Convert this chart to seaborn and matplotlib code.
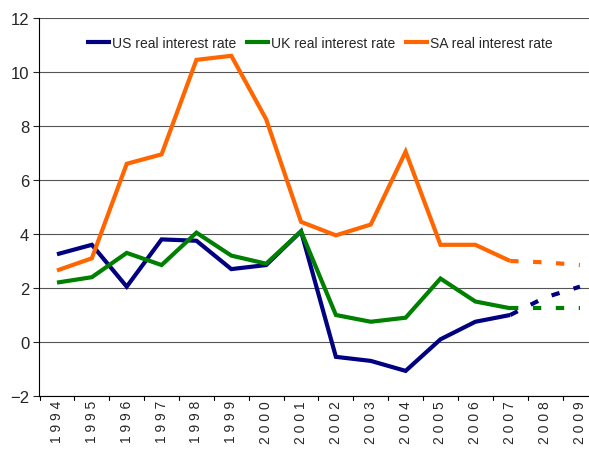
import matplotlib
matplotlib.use("Agg")
import matplotlib.pyplot as plt
import seaborn as sns
import pandas as pd
import numpy as np

years = [str(y) for y in range(1994, 2010)]
us = [3.25, 3.6, 2.05, 3.8, 3.75, 2.7, 2.85, 4.1, -0.55, -0.7, -1.07, 0.1, 0.75, 1.0, 1.65, 2.05]
uk = [2.2, 2.4, 3.3, 2.85, 4.05, 3.2, 2.9, 4.1, 1.0, 0.75, 0.9, 2.35, 1.5, 1.25, 1.25, 1.25]
sa = [2.65, 3.1, 6.6, 6.95, 10.45, 10.6, 8.25, 4.45, 3.95, 4.35, 7.05, 3.6, 3.6, 3.0, 2.95, 2.85]
labels = ["US real interest rate", "UK real interest rate", "SA real interest rate"]
colors = ["#000080", "#008000", "#FF6600"]
n_actual = 14  # through 2007; 2007-2009 drawn dashed

sns.set_style("white")
plt.rcParams['font.family'] = ['Liberation Sans', 'DejaVu Sans']

fig = plt.figure(figsize=(5.89, 4.52), dpi=100)
ax = fig.add_axes([39/589, 55/452, 550/589, 378/452])

idx = np.arange(len(years))
for vals, lab, col in zip([us, uk, sa], labels, colors):
    df_a = pd.DataFrame({"x": idx[:n_actual], "y": vals[:n_actual]})
    df_f = pd.DataFrame({"x": idx[n_actual-1:], "y": vals[n_actual-1:]})
    sns.lineplot(data=df_a, x="x", y="y", color=col, lw=3, ax=ax, label=lab,
                 solid_joinstyle="miter", solid_capstyle="butt")
    l = sns.lineplot(data=df_f, x="x", y="y", color=col, lw=3, ax=ax)
    l.lines[-1].set_dashes((2, 3.5))
    l.lines[-1].set_dash_capstyle("butt")

ax.set_xlim(-0.516, 15.26)
ax.set_ylim(-2, 12)
ax.set_yticks(range(-2, 13, 2))
ax.set_xticks(idx)
ax.set_xticklabels([" ".join(y) for y in years], rotation=90, fontsize=10)
ax.tick_params(axis='y', labelsize=12, length=4, direction='out', left=True, pad=3)
ax.tick_params(axis='x', length=0, pad=3)
# category boundary ticks
for b in np.arange(-0.5, 16, 1.0):
    ax.plot([b, b], [-2, -2.15], color="black", lw=0.8, clip_on=False)
ax.set_xlabel("")
ax.set_ylabel("")
ax.grid(axis='y', color="#555555", lw=0.8)
ax.set_axisbelow(True)
for s in ["top", "right"]:
    ax.spines[s].set_visible(False)
ax.spines["left"].set_color("black")
ax.spines["bottom"].set_color("black")
ax.spines["left"].set_linewidth(0.8)
ax.spines["bottom"].set_linewidth(0.8)

leg = ax.legend(loc="upper center", bbox_to_anchor=(0.51, 0.985), ncol=3, frameon=False,
                handlelength=1.8, handletextpad=0.1, columnspacing=0.6,
                prop={'family': ['Liberation Sans'], 'size': 10})
fig.savefig("out.png", dpi=100)
